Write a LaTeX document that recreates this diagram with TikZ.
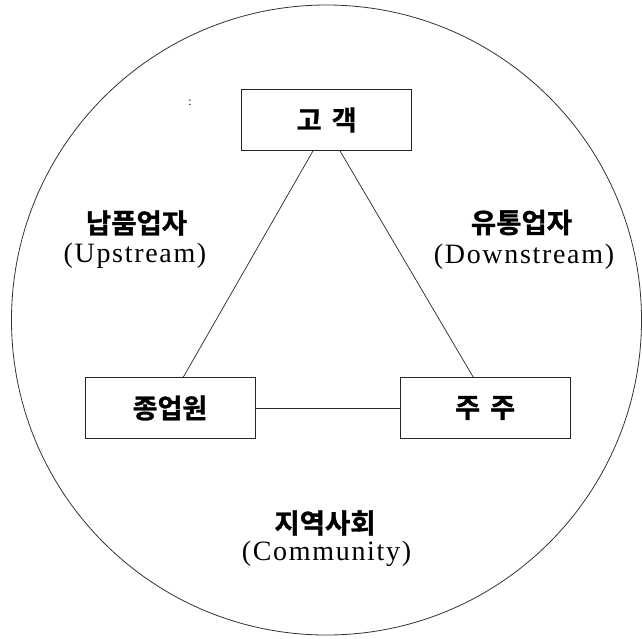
\documentclass[tikz,border=0pt]{standalone}
\usepackage{fontspec}
\setmainfont{Liberation Serif}
\newfontfamily\kor{Noto Sans CJK KR}[BoldFont={* Bold},BoldFeatures={FakeBold=1.2}]
\newfontfamily\latw{Liberation Serif}[LetterSpace=6]
\begin{document}
\begin{tikzpicture}[x=1pt,y=-1pt,
  line width=0.8pt,
  party/.style={draw=black!85, line width=0.8pt, minimum width=170pt, minimum height=61pt,
    inner sep=0pt, font=\kor\bfseries\fontsize{27}{27}\selectfont},
  kname/.style={font=\kor\bfseries\fontsize{27.5}{27.5}\selectfont, inner sep=0pt},
  ename/.style={font=\latw\fontsize{28}{28}\selectfont, inner sep=0pt, anchor=base},
  link/.style={draw=black!85, line width=0.7pt}]
  \useasboundingbox (0,0) rectangle (642,638);

  % surrounding community circle
  \draw[draw=black!80, line width=0.8pt] (326.5,320) circle[radius=315pt];

  % the three stakeholder boxes
  \node[party] (customer) at (326.7,120) {고 \hspace{4pt}객};
  \node[party] (employee) at (170,408) {종업원};
  \node[party] (shareholder) at (485.2,408) {주 \hspace{4pt}주};

  % connections between the boxes
  \draw[link] ([xshift=-13.7pt]customer.south) -- ([xshift=13.3pt]employee.north);
  \draw[link] ([xshift=13.3pt]customer.south) -- ([xshift=-12pt]shareholder.north);
  \draw[link] (employee.east) -- (shareholder.west);

  % outer stakeholder labels
  \node[kname] (supplier) at (136.5,223) {납품업자};
  \node[ename] (upstream) at (135,262) {(Upstream)};
  \node[kname] (distributor) at (521.5,222.5) {유통업자};
  \node[ename] (downstream) at (524,263) {(Downstream)};
  \node[kname] (community) at (325,523) {지역사회};
  \node[ename] (communityen) at (326.5,560) {(Community)};

  % small stray mark
  \node[font=\fontsize{12}{12}\selectfont, inner sep=0pt] (mark) at (190,103) {:};
\end{tikzpicture}
\end{document}
